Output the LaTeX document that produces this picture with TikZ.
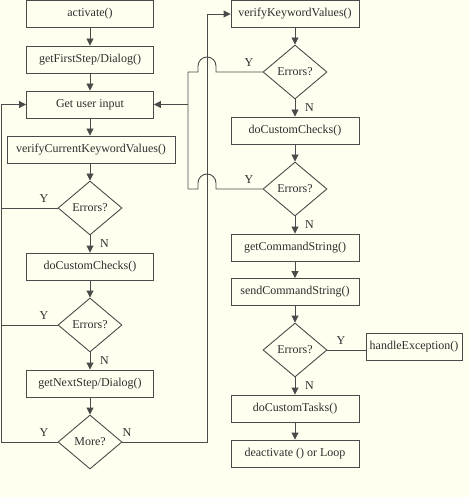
\documentclass[tikz,border=0pt]{standalone}
\usepackage{fontspec}
\setmainfont{Liberation Serif}
\usetikzlibrary{arrows.meta,shapes.geometric,positioning}
\definecolor{paper}{HTML}{FFFFF0}
\definecolor{ink}{HTML}{4A4A4A}
\definecolor{txt}{HTML}{2E2E2E}
\tikzset{
    box/.style={draw=ink,line width=0.9pt,minimum width=127pt,minimum height=27pt,inner sep=0pt,text=txt,font=\fontsize{12}{14}\selectfont},
    test/.style={diamond,draw=ink,line width=0.9pt,minimum width=64pt,minimum height=54pt,inner sep=0pt,text=txt,font=\fontsize{12}{14}\selectfont},
    yn/.style={inner sep=0pt,text=txt,font=\fontsize{12}{14}\selectfont},
    flow/.style={draw=ink,line width=0.9pt,-{Triangle[length=7pt,width=7pt]}},
    wire/.style={draw=ink,line width=0.9pt}
}
\begin{document}
\begin{tikzpicture}[x=1pt,y=-1pt]
        \useasboundingbox[fill=paper] (0,0) rectangle (469,497);
        %% Left column
        \node[box] (activate) at (90,14) {activate()};
        \node[box] (firstStep) at (90,59.5) {getFirstStep/Dialog()};
        \node[box] (userInput) at (90,104.5) {Get user input};
        \node[box,minimum width=168pt] (verifyCur) at (91,149.5) {verifyCurrentKeywordValues()};
        \node[test] (errA) at (90,208) {Errors?};
        \node[box] (checksA) at (90,266.5) {doCustomChecks()};
        \node[test] (errD) at (90,325) {Errors?};
        \node[box] (nextStep) at (90,383.5) {getNextStep/Dialog()};
        \node[test] (more) at (90,442) {More?};
        %% Right column
        \node[box,minimum width=128pt] (verifyKV) at (295,14) {verifyKeywordValues()};
        \node[test] (errB) at (295,72) {Errors?};
        \node[box,minimum width=128pt] (checksB) at (295,130.5) {doCustomChecks()};
        \node[test] (errC) at (295,189) {Errors?};
        \node[box,minimum width=128pt] (cmdString) at (295,247.5) {getCommandString()};
        \node[box,minimum width=128pt] (sendString) at (295,292) {sendCommandString()};
        \node[test] (errE) at (295,350) {Errors?};
        \node[box,minimum width=96pt] (handle) at (414,346.5) {handleException()};
        \node[box,minimum width=128pt] (tasks) at (295,408.5) {doCustomTasks()};
        \node[box,minimum width=128pt] (deactivate) at (295,453.5) {deactivate () or Loop};
        %% Bus lines
        \coordinate (loopL) at (1.5,442);
        \coordinate (bus) at (207,442);
        \coordinate (retour) at (188,104.5);
        \path (errB.west -| bus) coordinate (hopB);
        \path (errC.west -| bus) coordinate (hopC);
        %% Left flow
        \draw[flow] (activate) -- (firstStep);
        \draw[flow] (firstStep) -- (userInput);
        \draw[flow] (userInput) -- (userInput |- verifyCur.north);
        \draw[flow] (verifyCur.south -| errA) -- (errA);
        \draw[flow] (errA) -- (checksA);
        \draw[flow] (checksA) -- (errD);
        \draw[flow] (errD) -- (nextStep);
        \draw[flow] (nextStep) -- (more);
        \draw[wire] (errA.west) -- (errA.west -| loopL);
        \draw[wire] (errD.west) -- (errD.west -| loopL);
        \draw[flow] (more.west) -- (loopL) |- (userInput.west);
        \draw[flow] (more.east) -- (bus) |- (verifyKV.west);
        %% Right flow
        \draw[flow] (verifyKV) -- (errB);
        \draw[flow] (errB) -- (checksB);
        \draw[flow] (checksB) -- (errC);
        \draw[flow] (errC) -- (cmdString);
        \draw[flow] (cmdString) -- (sendString);
        \draw[flow] (sendString) -- (errE);
        \draw[flow] (errE) -- (tasks);
        \draw[flow] (tasks) -- (deactivate);
        \draw[wire] (errE.east) -- (errE.east -| handle.west);
        %% Returns with hops
        \draw[wire] (errB.west) -- ([xshift=9pt]hopB) -- ++(0,-6) arc[start angle=0,end angle=180,radius=9pt] -- ++(0,6) -- (errB.west -| retour) -- (errC.west -| retour);
        \draw[wire] (errC.west) -- ([xshift=9pt]hopC) -- ++(0,-6) arc[start angle=0,end angle=180,radius=9pt] -- ++(0,6) -- (errC.west -| retour);
        \draw[flow] (retour) -- (userInput.east);
        %% Labels
        \node[yn,above left=5pt and 9pt of errA.west] (yA) {Y};
        \node[yn,above left=5pt and 9pt of errD.west] (yD) {Y};
        \node[yn,above left=5pt and 9pt of more.west] (yMore) {Y};
        \node[yn,above left=5pt and 9pt of errB.west] (yB) {Y};
        \node[yn,above left=5pt and 9pt of errC.west] (yC) {Y};
        \node[yn,above right=5pt and 9pt of errE.east] (yE) {Y};
        \node[yn,below right=4pt and 10pt of errA.south] (nA) {N};
        \node[yn,below right=4pt and 10pt of errD.south] (nD) {N};
        \node[yn,below right=4pt and 10pt of errB.south] (nB) {N};
        \node[yn,below right=4pt and 10pt of errC.south] (nC) {N};
        \node[yn,below right=4pt and 10pt of errE.south] (nE) {N};
        \node[yn,above right=5pt and 0pt of more.east] (nMore) {N};
    \end{tikzpicture}
\end{document}
